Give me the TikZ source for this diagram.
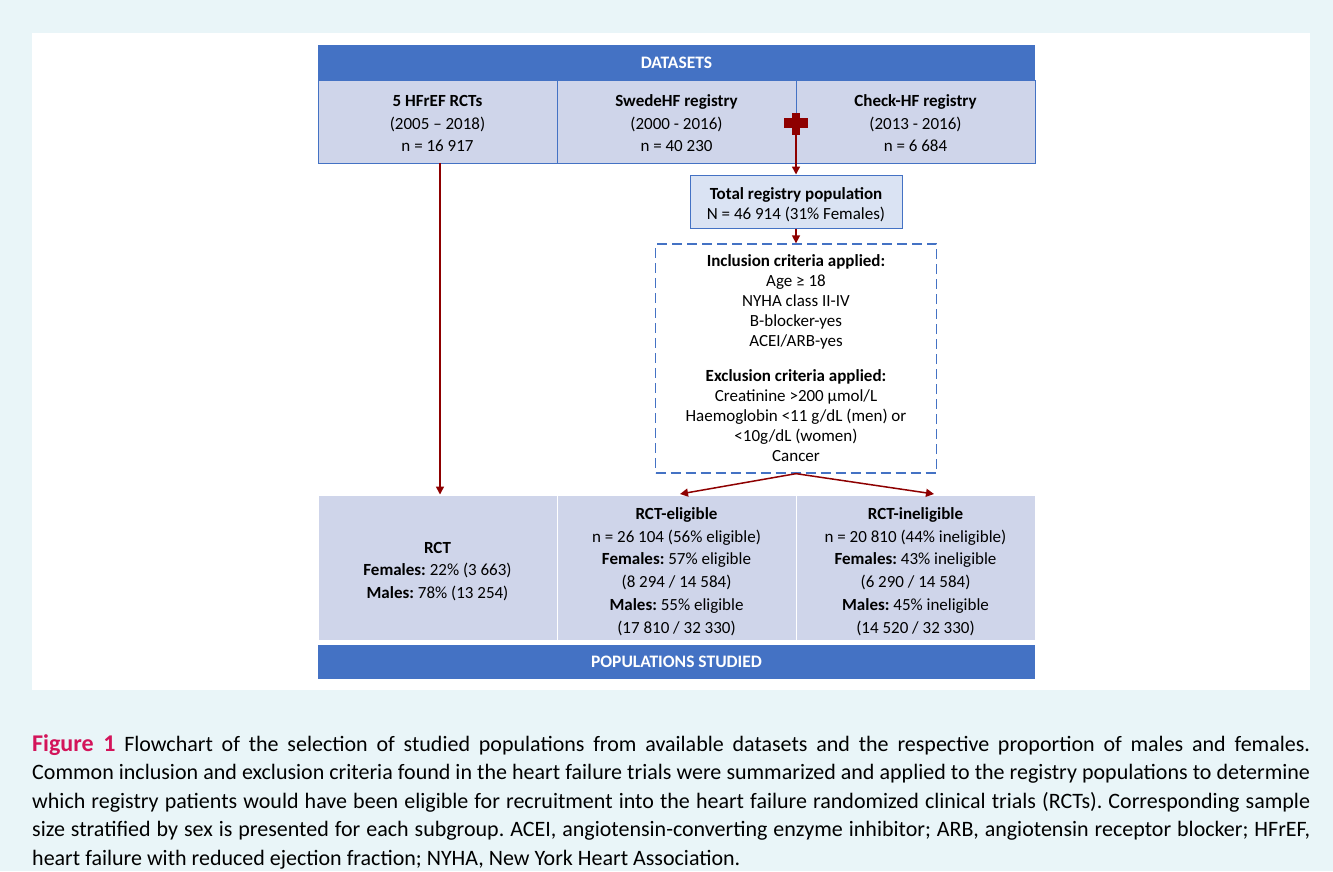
\documentclass[tikz,border=0pt]{standalone}
\usepackage{fontspec}
\setmainfont{Carlito}
\usetikzlibrary{arrows.meta}
\definecolor{hdr}{HTML}{4472C4}
\definecolor{cellc}{HTML}{CFD5EA}
\definecolor{dred}{HTML}{8E0000}
\definecolor{bgc}{HTML}{E9F5F8}
\definecolor{totc}{HTML}{DAE3F3}
\definecolor{figred}{HTML}{D3145A}
\frenchspacing
\tikzset{
  hdrbox/.style={fill=hdr, text=white, font=\fontsize{17.5}{19}\selectfont\bfseries, minimum width=717pt, minimum height=35pt, inner sep=0pt},
  cellbox/.style={fill=cellc, draw=hdr, line width=0.8pt, minimum width=239pt, minimum height=83pt, inner sep=0pt},
  celltext/.style={align=center, inner sep=0pt, font=\fontsize{17}{22.5}\selectfont},
  outbox/.style={fill=cellc, draw=white, line width=1pt, minimum width=239pt, minimum height=145pt, inner sep=0pt},
  outtext/.style={align=center, inner sep=0pt, font=\fontsize{17}{22.8}\selectfont},
  arr/.style={draw=dred, line width=1.5pt, -{Triangle[length=8pt,width=8pt]}},
}
\begin{document}
\begin{tikzpicture}[x=1pt,y=-1pt]
\useasboundingbox (0,0) rectangle (1333,871);
\fill[bgc] (0,0) rectangle (1333,871);
\fill[white] (32,33) rectangle (1310,690);

% top row
\node[hdrbox] (hdr1) at (676.5,62.5) {DATASETS};
\node[cellbox] (c1) at (437.5,121.5) {};
\node[cellbox] (c2) at (676.5,121.5) {};
\node[cellbox] (c3) at (915.5,121.5) {};
\node[celltext] (c1t) at ([yshift=-2pt]c1.center) {\textbf{5 HFrEF RCTs}\\(2005 – 2018)\\n = 16 917};
\node[celltext] (c2t) at ([yshift=-2pt]c2.center) {\textbf{SwedeHF registry}\\(2000 - 2016)\\n = 40 230};
\node[celltext] (c3t) at ([yshift=-2pt]c3.center) {\textbf{Check-HF registry}\\(2013 - 2016)\\n = 6 684};

% total registry
\node[fill=totc, draw=hdr, line width=1pt, minimum width=212pt, minimum height=53pt, inner sep=0pt] (tot) at (796,201.5) {};
\node[align=center, inner sep=0pt, font=\fontsize{17}{20}\selectfont] (tott) at ([yshift=-3pt]tot.center) {\textbf{Total registry population}\\N = 46 914 (31\% Females)};

% criteria
\node[fill=white, draw=hdr, dash pattern=on 10pt off 5pt, line width=1.3pt, minimum width=281pt, minimum height=229pt, align=center, inner sep=0pt, font=\fontsize{17}{20}\selectfont] (crit) at (796,358.5) {\textbf{Inclusion criteria applied:}\\Age ≥ 18\\NYHA class II-IV\\B-blocker-yes\\ACEI/ARB-yes\\[15pt]\textbf{Exclusion criteria applied:}\\Creatinine >200 µmol/L\\Haemoglobin <11 g/dL (men) or\\<10g/dL (women)\\Cancer};

% bottom row
\node[outbox] (o1) at (437.5,567.5) {};
\node[outbox] (o2) at (676.5,567.5) {};
\node[outbox] (o3) at (915.5,567.5) {};
\node[outtext] (o1t) at ([yshift=-4pt]o1.center) {\textbf{RCT}\\\textbf{Females:} 22\% (3 663)\\\textbf{Males:} 78\% (13 254)};
\node[outtext] (o2t) at ([yshift=-4pt]o2.center) {\textbf{RCT-eligible}\\n = 26 104 (56\% eligible)\\\textbf{Females:} 57\% eligible\\(8 294 / 14 584)\\\textbf{Males:} 55\% eligible\\(17 810 / 32 330)};
\node[outtext] (o3t) at ([yshift=-4pt]o3.center) {\textbf{RCT-ineligible}\\n = 20 810 (44\% ineligible)\\\textbf{Females:} 43\% ineligible\\(6 290 / 14 584)\\\textbf{Males:} 45\% ineligible\\(14 520 / 32 330)};
\node[hdrbox, minimum height=34pt] (hdr2) at (676.5,662) {POPULATIONS STUDIED};

% connectors
\coordinate (e1) at (680,494);
\coordinate (e2) at (934,494);
\coordinate (crossb) at (796,134);
\draw[arr] ([xshift=2.5pt]c1.south) -- ([xshift=2.5pt]o1.north);
\draw[arr] (crossb) -- (tot.north);
\draw[arr] (tot.south) -- (crit.north);
\draw[arr] (crit.south) -- (e1);
\draw[arr] (crit.south) -- (e2);

% cross
\fill[dred] (784,118) rectangle (808,128);
\fill[dred] (792,112.5) rectangle (800,134.5);

% caption
\node[anchor=north west, inner sep=0pt, text width=1278pt, align=justify, font=\fontsize{22}{28.5}\selectfont] (cap) at (32,734) {{\color{figred}\fontsize{24}{28.5}\selectfont\bfseries Figure~1}\hspace{0.4em}Flowchart of the selection of studied populations from available datasets and the respective proportion of males and females.\linebreak Common inclusion and exclusion criteria found in the heart failure trials were summarized and applied to the registry populations to determine\linebreak which registry patients would have been eligible for recruitment into the heart failure randomized clinical trials (RCTs). Corresponding sample\linebreak size stratified by sex is presented for each subgroup. ACEI, angiotensin-converting enzyme inhibitor; ARB, angiotensin receptor blocker; HFrEF,\linebreak heart failure with reduced ejection fraction; NYHA, New York Heart Association.};
\end{tikzpicture}
\end{document}
